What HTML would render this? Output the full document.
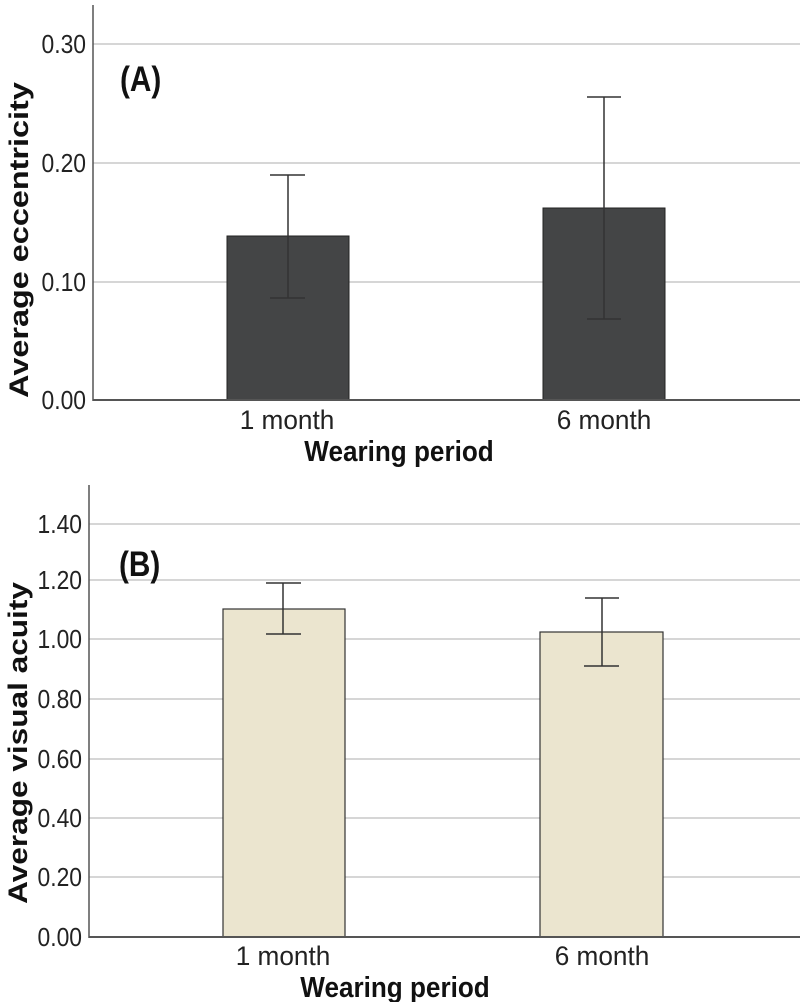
<!DOCTYPE html>
<html><head><meta charset="utf-8"><style>
html,body{margin:0;padding:0;background:#fff}
text{font-family:"Liberation Sans",sans-serif}
</style></head><body>
<svg width="800" height="1002" viewBox="0 0 800 1002" xmlns="http://www.w3.org/2000/svg">
<!-- Panel A -->
<g stroke="#c8c8c8" stroke-width="1.5">
<line x1="93" y1="44" x2="800" y2="44"/>
<line x1="93" y1="163" x2="800" y2="163"/>
<line x1="93" y1="282" x2="800" y2="282"/>
</g>
<rect x="227" y="236" width="122" height="164" fill="#444546" stroke="#222" stroke-width="1"/>
<rect x="543" y="208" width="122" height="192" fill="#444546" stroke="#222" stroke-width="1"/>
<g stroke="#333" stroke-width="1.5">
<line x1="288" y1="175" x2="288" y2="298"/><line x1="270" y1="175" x2="305" y2="175"/><line x1="270" y1="298" x2="305" y2="298"/>
<line x1="604" y1="97" x2="604" y2="319"/><line x1="587" y1="97" x2="621" y2="97"/><line x1="587" y1="319" x2="621" y2="319"/>
</g>
<line x1="93" y1="5" x2="93" y2="401" stroke="#555" stroke-width="1.5"/>
<line x1="93" y1="400" x2="800" y2="400" stroke="#555" stroke-width="2"/>
<g font-size="26" fill="#222" text-anchor="end">
<text transform="translate(86,53) scale(0.88,1)">0.30</text>
<text transform="translate(86,172) scale(0.88,1)">0.20</text>
<text transform="translate(86,291) scale(0.88,1)">0.10</text>
<text transform="translate(86,409) scale(0.88,1)">0.00</text>
</g>
<g font-size="27" fill="#222" text-anchor="middle">
<text transform="translate(287,429) scale(0.97,1)">1 month</text>
<text transform="translate(604,429) scale(0.97,1)">6 month</text>
</g>
<text transform="translate(399,461) scale(0.9,1)" font-size="29" font-weight="bold" text-anchor="middle" fill="#111">Wearing period</text>
<text transform="translate(28,240) rotate(-90) scale(1.2,1)" font-size="27" font-weight="bold" text-anchor="middle" fill="#111">Average eccentricity</text>
<text transform="translate(120,91) scale(0.85,1)" font-size="35" font-weight="bold" fill="#111">(A)</text>

<!-- Panel B -->
<g stroke="#c8c8c8" stroke-width="1.5">
<line x1="89" y1="524" x2="800" y2="524"/>
<line x1="89" y1="580" x2="800" y2="580"/>
<line x1="89" y1="639" x2="800" y2="639"/>
<line x1="89" y1="699" x2="800" y2="699"/>
<line x1="89" y1="759" x2="800" y2="759"/>
<line x1="89" y1="818" x2="800" y2="818"/>
<line x1="89" y1="877" x2="800" y2="877"/>
</g>
<rect x="223" y="609" width="122" height="328" fill="#ebe5cf" stroke="#333" stroke-width="1.2"/>
<rect x="540" y="632" width="123" height="305" fill="#ebe5cf" stroke="#333" stroke-width="1.2"/>
<g stroke="#333" stroke-width="1.5">
<line x1="283" y1="583" x2="283" y2="634"/><line x1="266" y1="583" x2="301" y2="583"/><line x1="266" y1="634" x2="301" y2="634"/>
<line x1="602" y1="598" x2="602" y2="666"/><line x1="585" y1="598" x2="619" y2="598"/><line x1="584" y1="666" x2="619" y2="666"/>
</g>
<line x1="89" y1="485" x2="89" y2="938" stroke="#555" stroke-width="1.5"/>
<line x1="89" y1="937" x2="800" y2="937" stroke="#555" stroke-width="2"/>
<g font-size="26" fill="#222" text-anchor="end">
<text transform="translate(82,533) scale(0.88,1)">1.40</text>
<text transform="translate(82,589) scale(0.88,1)">1.20</text>
<text transform="translate(82,648) scale(0.88,1)">1.00</text>
<text transform="translate(82,708) scale(0.88,1)">0.80</text>
<text transform="translate(82,768) scale(0.88,1)">0.60</text>
<text transform="translate(82,827) scale(0.88,1)">0.40</text>
<text transform="translate(82,886) scale(0.88,1)">0.20</text>
<text transform="translate(82,946) scale(0.88,1)">0.00</text>
</g>
<g font-size="27" fill="#222" text-anchor="middle">
<text transform="translate(283,965) scale(0.97,1)">1 month</text>
<text transform="translate(602,965) scale(0.97,1)">6 month</text>
</g>
<text transform="translate(395,997) scale(0.9,1)" font-size="29" font-weight="bold" text-anchor="middle" fill="#111">Wearing period</text>
<text transform="translate(27,743) rotate(-90) scale(1.17,1)" font-size="27" font-weight="bold" text-anchor="middle" fill="#111">Average visual acuity</text>
<text transform="translate(119,576) scale(0.85,1)" font-size="35" font-weight="bold" fill="#111">(B)</text>
</svg>
</body></html>
